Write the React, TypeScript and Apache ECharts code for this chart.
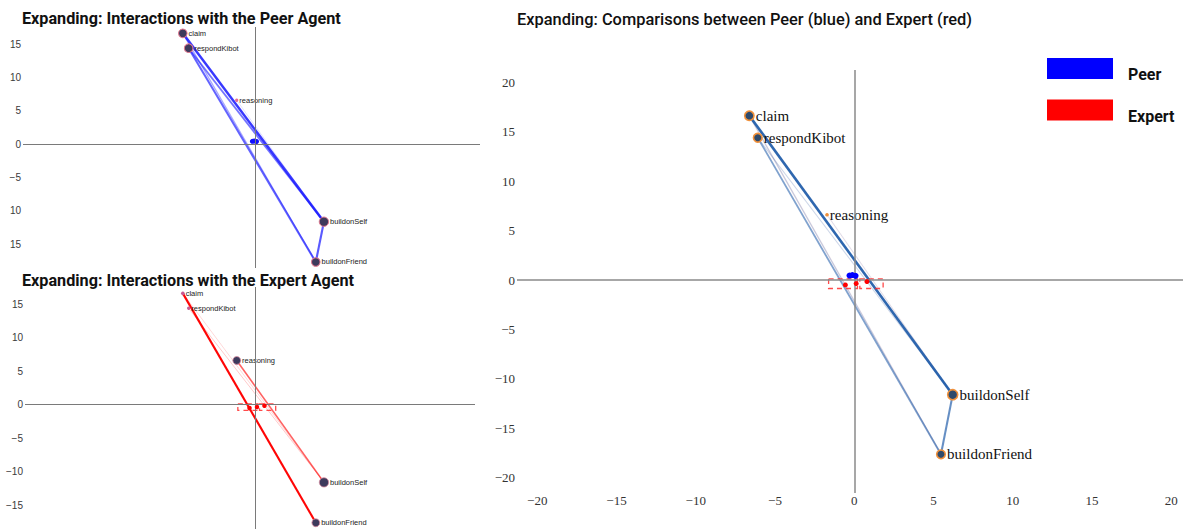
import React, { useEffect, useRef } from "react";
import * as echarts from "echarts";

// ---------- data ----------
const nodeNames = ["claim", "respondKibot", "reasoning", "buildonSelf", "buildonFriend"];
const nodeX = [-6.62, -6.09, -1.72, 6.21, 5.47];
const nodeY = [16.64, 14.41, 6.61, -11.61, -17.65];

// node weights (relative frequency) per agent
const peerNodeWeight = [0.8, 0.8, 0.1, 0.9, 0.8];
const expertNodeWeight = [0.15, 0.1, 0.7, 0.9, 0.7];
const compareNodeWeight = [0.9, 0.8, 0.15, 1.0, 0.8];

// edges: source, target, weight
const peerEdgeSource = ["claim", "respondKibot", "respondKibot", "buildonSelf", "claim", "reasoning"];
const peerEdgeTarget = ["buildonSelf", "buildonSelf", "buildonFriend", "buildonFriend", "buildonFriend", "buildonSelf"];
const peerEdgeWeight = [1.0, 0.65, 0.75, 0.8, 0.35, 0.08];
const comparePeerEdgeWeight = [1.0, 0.12, 0.55, 0.7, 0.18, 0.05];

const expertEdgeSource = ["claim", "reasoning", "respondKibot", "claim"];
const expertEdgeTarget = ["buildonFriend", "buildonSelf", "buildonSelf", "buildonSelf"];
const expertEdgeWeight = [1.0, 0.6, 0.15, 0.1];

// clusters of interactions near the origin
const peerClusterX = [-0.3, -0.12, 0.08];
const peerClusterY = [0.45, 0.5, 0.42];
const expertClusterX = [-0.56, 0.12, 0.8];
const expertClusterY = [-0.5, -0.36, -0.16];

// dashed ranges for expert cluster
const expertBoxX1 = [-1.62, 0.35];
const expertBoxY1 = [0.12, 0.12];
const expertBoxX2 = [0.2, 1.82];
const expertBoxY2 = [-0.86, -0.86];

const titles = [
  "Expanding: Interactions with the Peer Agent",
  "Expanding: Interactions with the Expert Agent",
  "Expanding: Comparisons between Peer (blue) and Expert (red)",
];
const legendNames = ["Peer", "Expert"];

// ---------- helpers ----------
const idx = (n: string) => nodeNames.indexOf(n);
const MINUS = "\u2212";

function edgeData(src: string[], tgt: string[], w: number[], color: string, base: number, gain: number, opBase: number, opGain: number) {
  return src.map((s, i) => ({
    coords: [
      [nodeX[idx(s)], nodeY[idx(s)]],
      [nodeX[idx(tgt[i])], nodeY[idx(tgt[i])]],
    ],
    lineStyle: { width: base + gain * w[i], opacity: opBase + opGain * w[i], color },
  }));
}

function nodeData(weights: number[], fillBig: string, fillSmall: string, border: string, borderW: number, sizeGain: number) {
  return nodeNames.map((n, i) => {
    const small = weights[i] < 0.3;
    return {
      name: n,
      value: [nodeX[i], nodeY[i]],
      symbolSize: small ? 2.5 + weights[i] * 8 : 3 + weights[i] * sizeGain,
      itemStyle: small
        ? { color: fillSmall, borderWidth: 0, opacity: 1 }
        : { color: fillBig, borderColor: border, borderWidth: borderW, opacity: 1 },
    };
  });
}

function zeroLines(color: string, width: number) {
  return {
    silent: true,
    symbol: "none",
    label: { show: false },
    lineStyle: { color, width, type: "solid", opacity: 1 },
    data: [{ xAxis: 0 }, { yAxis: 0 }],
  };
}

function boxSeries(axis: number) {
  return {
    type: "custom",
    coordinateSystem: "cartesian2d",
    xAxisIndex: axis,
    yAxisIndex: axis,
    silent: true,
    z: 4,
    data: expertBoxX1.map((x1, i) => [x1, expertBoxY1[i], expertBoxX2[i], expertBoxY2[i]]),
    encode: { x: [0, 2], y: [1, 3] },
    renderItem: (_p: any, api: any) => {
      const p1 = api.coord([api.value(0), api.value(1)]);
      const p2 = api.coord([api.value(2), api.value(3)]);
      return {
        type: "rect",
        shape: { x: p1[0], y: p1[1], width: p2[0] - p1[0], height: p2[1] - p1[1] },
        style: { fill: "none", stroke: "#ff2a2a", lineWidth: 1.3, lineDash: [5, 4], opacity: 0.85 },
      };
    },
  };
}

const leftLabelStyle = { fontFamily: "Liberation Sans, Arial, sans-serif", fontSize: 7.5, color: "#222" };
const rightLabelStyle = { fontFamily: "Liberation Serif, Times New Roman, serif", fontSize: 15, color: "#111" };
const titleStyle = { fontFamily: "Roboto", fontWeight: "bold", fontSize: 16.2, color: "#111" };

function buildOption(): any {
  const leftX = (i: number, min: number, max: number) => ({
    gridIndex: i, type: "value", min, max, show: false,
  });
  const leftY = (i: number, min: number, max: number, fmt: (v: number) => string) => ({
    gridIndex: i,
    type: "value",
    min,
    max,
    minInterval: 5,
    maxInterval: 5,
    axisLine: { show: false },
    axisTick: { show: false },
    splitLine: { show: false },
    axisLabel: {
      showMinLabel: false,
      showMaxLabel: false,
      margin: 2,
      fontFamily: "Liberation Sans, Arial, sans-serif",
      fontSize: 10,
      color: "#3a3a3a",
      formatter: fmt,
    },
  });
  const signed = (v: number) => (v < 0 ? MINUS + -v : String(v));

  return {
    animation: false,
    backgroundColor: "#fff",
    title: [
      { text: titles[0], left: 22, top: 10, padding: 0, textStyle: titleStyle },
      { text: titles[1], left: 22, top: 272, padding: 0, textStyle: titleStyle },
      { text: titles[2], left: 517, top: 11, padding: 0, textStyle: { ...titleStyle, fontWeight: 500, fontSize: 16.4 } },
    ],
    legend: {
      data: legendNames,
      orient: "vertical",
      left: 1047,
      top: 58,
      padding: 0,
      itemWidth: 66,
      itemHeight: 21,
      itemGap: 17,
      icon: "rect",
      selectedMode: false,
      formatter: "{t|{name}}",
      textStyle: {
        fontFamily: "Roboto",
        fontWeight: "bold",
        fontSize: 16,
        color: "#111",
        padding: [0, 0, 0, 10],
        rich: {
          t: {
            fontFamily: "Roboto",
            fontWeight: "bold",
            fontSize: 16,
            color: "#111",
            lineHeight: 28,
            verticalAlign: "bottom",
          },
        },
      },
    },
    grid: [
      { left: 23, top: 27, width: 457, height: 241 },
      { left: 25, top: 287, width: 450, height: 242 },
      { left: 517, top: 70, width: 666, height: 423 },
    ],
    xAxis: [
      leftX(0, -21.15, 20.4),
      leftX(1, -20.97, 19.94),
      {
        gridIndex: 2,
        type: "value",
        min: -21.28,
        max: 20.74,
        minInterval: 5,
        maxInterval: 5,
        axisLine: { show: false },
        axisTick: { show: false },
        splitLine: { show: false },
        axisLabel: {
          showMinLabel: false,
          showMaxLabel: false,
          margin: 1,
          fontFamily: "Liberation Serif, Times New Roman, serif",
          fontSize: 13,
          color: "#333",
          formatter: signed,
        },
      },
    ],
    yAxis: [
      leftY(0, -18.55, 17.59, (v: number) => (v <= -10 ? String(-v) : signed(v))),
      leftY(1, -18.58, 17.59, signed),
      {
        gridIndex: 2,
        type: "value",
        min: -21.57,
        max: 21.27,
        minInterval: 5,
        maxInterval: 5,
        axisLine: { show: false },
        axisTick: { show: false },
        splitLine: { show: false },
        axisLabel: {
          showMinLabel: false,
          showMaxLabel: false,
          margin: 2,
          fontFamily: "Liberation Serif, Times New Roman, serif",
          fontSize: 13,
          color: "#333",
          formatter: signed,
        },
      },
    ],
    series: [
      // ---------- Peer panel ----------
      {
        type: "lines", coordinateSystem: "cartesian2d", xAxisIndex: 0, yAxisIndex: 0, silent: true, z: 2,
        data: edgeData(peerEdgeSource, peerEdgeTarget, peerEdgeWeight, "#1a1aff", 0.6, 1.9, 0.12, 0.75),
        markLine: zeroLines("#7a7a7a", 1),
      },
      {
        type: "scatter", xAxisIndex: 0, yAxisIndex: 0, z: 3, silent: true,
        data: nodeData(peerNodeWeight, "#3d3a5c", "#e46e96", "#e0788f", 1, 7),
        label: { show: true, position: "right", distance: 1, formatter: "{b}", ...leftLabelStyle },
      },
      {
        type: "scatter", xAxisIndex: 0, yAxisIndex: 0, z: 4, silent: true, symbolSize: 5,
        itemStyle: { color: "#1010ff", opacity: 1 },
        data: peerClusterX.map((x, i) => [x, peerClusterY[i]]),
      },
      // ---------- Expert panel ----------
      {
        type: "lines", coordinateSystem: "cartesian2d", xAxisIndex: 1, yAxisIndex: 1, silent: true, z: 2,
        data: edgeData(expertEdgeSource, expertEdgeTarget, expertEdgeWeight, "#ff0000", 0.8, 1.3, 0.08, 0.9),
        markLine: zeroLines("#7a7a7a", 1),
      },
      {
        type: "scatter", xAxisIndex: 1, yAxisIndex: 1, z: 3, silent: true,
        data: nodeData(expertNodeWeight, "#3d3a5c", "#c85a92", "#d88aa0", 0.8, 7),
        label: { show: true, position: "right", distance: 1, formatter: "{b}", ...leftLabelStyle },
      },
      boxSeries(1),
      {
        type: "scatter", xAxisIndex: 1, yAxisIndex: 1, z: 5, silent: true, symbolSize: 4.5,
        itemStyle: { color: "#ff0000", opacity: 1 },
        data: expertClusterX.map((x, i) => [x, expertClusterY[i]]),
      },
      // ---------- Comparison panel ----------
      {
        type: "lines", coordinateSystem: "cartesian2d", xAxisIndex: 2, yAxisIndex: 2, silent: true, z: 1,
        data: edgeData(expertEdgeSource, expertEdgeTarget, expertEdgeWeight, "#f2a0a8", 0.8, 1.0, 0.05, 0.12),
        markLine: zeroLines("#8a8a8a", 1.5),
      },
      {
        type: "lines", coordinateSystem: "cartesian2d", xAxisIndex: 2, yAxisIndex: 2, silent: true, z: 2,
        data: edgeData(peerEdgeSource, peerEdgeTarget, comparePeerEdgeWeight, "#1d5aa8", 0.8, 1.8, 0.12, 0.8),
      },
      {
        type: "scatter", xAxisIndex: 2, yAxisIndex: 2, z: 3, silent: true,
        data: nodeData(compareNodeWeight, "#2e4a6b", "#f0903a", "#f0903a", 1.6, 7),
        label: { show: true, position: "right", distance: 1, formatter: "{b}", ...rightLabelStyle },
      },
      boxSeries(2),
      {
        name: legendNames[0],
        type: "scatter", xAxisIndex: 2, yAxisIndex: 2, z: 5, silent: true, symbolSize: 6,
        itemStyle: { color: "#0000ff", opacity: 1 },
        data: peerClusterX.map((x, i) => [x, peerClusterY[i]]),
      },
      {
        name: legendNames[1],
        type: "scatter", xAxisIndex: 2, yAxisIndex: 2, z: 5, silent: true, symbolSize: 5,
        itemStyle: { color: "#ff0000", opacity: 1 },
        data: expertClusterX.map((x, i) => [x, expertClusterY[i]]),
      },
    ],
  };
}

export default function App() {
  const ref = useRef<HTMLDivElement>(null);
  useEffect(() => {
    if (!ref.current) return;
    const chart = echarts.init(ref.current, null, { renderer: "svg" });
    chart.setOption(buildOption());
    return () => chart.dispose();
  }, []);
  return (
    <div
      ref={ref}
      style={{ position: "fixed", left: 0, top: 0, width: 1183, height: 529, background: "#fff" }}
    />
  );
}
